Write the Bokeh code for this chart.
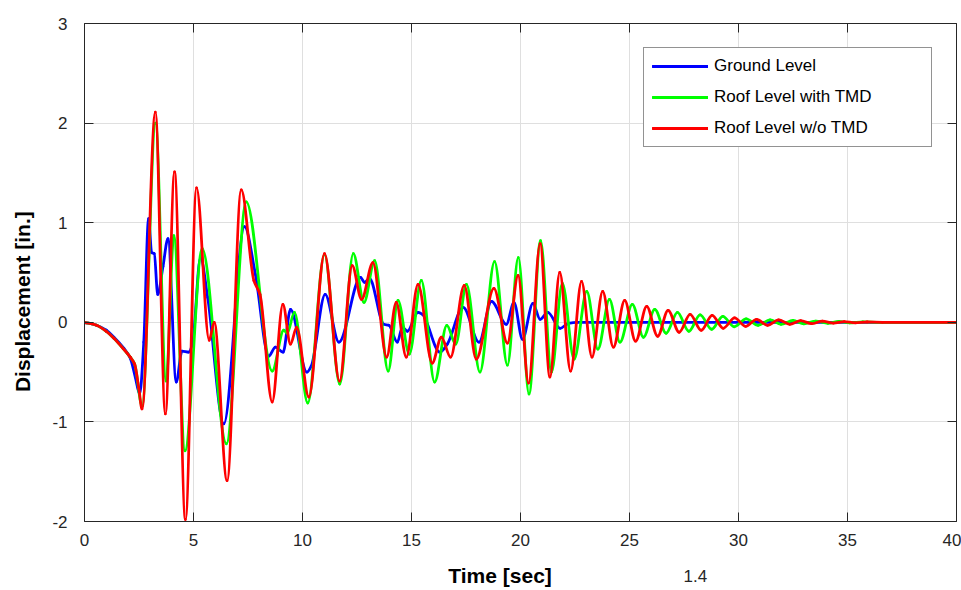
import numpy as np
from bokeh.plotting import figure
from bokeh.models import (LinearAxis, FixedTicker, Legend, LegendItem, Range1d,
                          ColumnDataSource, Title, CustomLabelingPolicy)
from bokeh.embed import file_html
from bokeh.resources import INLINE

# ---------------- data ----------------
x_ticks = [0, 5, 10, 15, 20, 25, 30, 35, 40]
y_ticks = [-2, -1, 0, 1, 2, 3]
y_tick_labels = {-2: "-2", -1: "-1", 0: "0", 1: "1", 2: "2", 3: "3"}

series_names = ["Ground Level", "Roof Level with TMD", "Roof Level w/o TMD"]
series_colors = ["#0000ff", "#00ff00", "#ff0000"]

ground_t = [0, 0.55, 1.0, 1.35, 1.8, 2.1, 2.33, 2.53, 2.72, 2.94, 3.08, 3.2, 3.36,
            3.6, 3.83, 4.21, 4.47, 4.78, 4.95, 5.32, 5.65, 6.39, 7.34, 7.84, 8.45,
            8.76, 9.11, 9.45, 10.2, 10.4, 11.04, 11.67, 12.66, 12.85, 13.07, 13.73,
            13.96, 14.35, 14.58, 14.81, 15.3, 15.5, 16.3, 16.64, 17.37, 18.1, 18.67,
            19.35, 19.7, 20.09, 20.57, 20.9, 21.25, 21.82, 22.2, 22.6, 40]
ground_v = [0, -0.03, -0.08, -0.15, -0.26, -0.36, -0.55, -0.72, -0.2, 1.04, 0.70, 0.69, 0.28,
            0.56, 0.84, -0.60, -0.29, -0.30, -0.22, 0.65, 0.25, -1.02, 0.96, 0.48, -0.34,
            -0.25, -0.30, 0.13, -0.50, -0.44, 0.28, -0.20, 0.45, 0.40, 0.44, -0.02,
            -0.03, -0.20, -0.05, -0.09, 0.10, 0.08, -0.30, -0.22, 0.15, -0.20, 0.21,
            -0.02, 0.20, -0.17, 0.19, 0.03, 0.10, -0.06, -0.01, 0.0, 0.0]

tmd_t = [0, 0.55, 1.0, 1.35, 1.8, 2.1, 2.3, 2.64, 3.26, 3.74, 4.10, 4.61, 5.40, 6.51,
         7.42, 8.61, 9.14, 9.3, 9.63, 10.24, 11.01, 11.71, 12.33, 12.82, 13.31, 13.93,
         14.38, 14.90, 15.45, 16.06, 16.62, 17.03, 17.52, 18.14, 18.81, 19.40, 19.90,
         20.39, 20.92, 21.42, 21.92, 22.46, 23.04, 23.55, 24.08, 24.56, 25.13, 25.64,
         26.16, 26.68, 27.20, 27.72, 28.24, 28.77, 29.28, 29.80, 30.35, 30.9, 31.45,
         31.95, 32.5, 33.0, 33.55, 34.1, 34.6, 35.1, 35.7, 36.5, 40]
tmd_v = [0, -0.03, -0.09, -0.16, -0.27, -0.35, -0.42, -0.84, 2.0, -0.59, 0.87, -1.29, 0.74, -1.22,
         1.21, -0.49, -0.08, -0.11, 0.10, -0.81, 0.68, -0.62, 0.69, 0.20, 0.62, -0.49,
         0.22, -0.32, 0.42, -0.60, -0.03, -0.22, 0.38, -0.50, 0.61, -0.43, 0.65,
         -0.72, 0.82, -0.50, 0.39, -0.37, 0.31, -0.27, 0.23, -0.20, 0.18, -0.15,
         0.13, -0.11, 0.10, -0.09, 0.075, -0.07, 0.06, -0.045, 0.035, -0.03, 0.025,
         -0.02, 0.018, -0.015, 0.012, -0.01, 0.008, -0.006, 0.004, 0.0, 0.0]

notmd_t = [0, 0.55, 1.0, 1.35, 1.8, 2.1, 2.3, 2.49, 2.64, 3.25, 3.71, 4.13, 4.63, 5.14,
           5.72, 5.95, 6.54, 7.19, 7.77, 8.05, 8.61, 9.10, 9.45, 9.73, 10.29, 11.01,
           11.70, 12.28, 12.71, 13.23, 13.86, 14.30, 14.76, 15.30, 15.95, 16.37, 16.79,
           17.42, 17.97, 18.78, 19.40, 19.89, 20.37, 20.90, 21.35, 21.80, 22.30, 22.80,
           23.28, 23.77, 24.26, 24.78, 25.28, 25.79, 26.29, 26.77, 27.28, 27.78, 28.29,
           28.79, 29.30, 29.82, 30.33, 30.83, 31.33, 31.84, 32.35, 32.85, 33.35, 33.85,
           34.35, 34.85, 35.35, 35.9, 36.6, 40]
notmd_v = [0, -0.03, -0.09, -0.16, -0.27, -0.35, -0.42, -0.66, -0.87, 2.11, -0.92, 1.51, -1.98, 1.35,
           -0.18, 0.0, -1.59, 1.33, 0.42, 0.28, -0.80, 0.18, -0.22, -0.05, -0.75, 0.69,
           -0.59, 0.57, 0.23, 0.60, -0.35, 0.20, -0.35, 0.38, -0.41, -0.15, -0.35,
           0.37, -0.37, 0.34, -0.21, 0.47, -0.61, 0.79, -0.55, 0.50, -0.49, 0.41,
           -0.35, 0.31, -0.25, 0.22, -0.19, 0.16, -0.14, 0.12, -0.10, 0.08, -0.08,
           0.07, -0.06, 0.045, -0.04, 0.03, -0.03, 0.025, -0.02, 0.017, -0.014, 0.011,
           -0.009, 0.007, -0.005, 0.003, 0.0, 0.0]

x_label = "Time [sec]"
y_label = "Displacement [in.]"
stray_label = "1.4"   # tick label of the neighbouring chart visible at the bottom


def smooth_segments(t, v):
    """Monotone (PCHIP-style) cubic Bezier segments through the read points."""
    x = np.asarray(t, float)
    y = np.asarray(v, float)
    h = np.diff(x)
    d = np.diff(y) / h
    n = len(x)
    m = np.zeros(n)
    m[0] = d[0]
    m[-1] = d[-1]
    for i in range(1, n - 1):
        if d[i - 1] * d[i] <= 0:
            m[i] = 0.0
        else:
            w1 = 2 * h[i] + h[i - 1]
            w2 = h[i] + 2 * h[i - 1]
            m[i] = (w1 + w2) / (w1 / d[i - 1] + w2 / d[i])
    return dict(x0=x[:-1], y0=y[:-1], x1=x[1:], y1=y[1:],
                cx0=x[:-1] + h / 3, cy0=y[:-1] + m[:-1] * h / 3,
                cx1=x[1:] - h / 3, cy1=y[1:] - m[1:] * h / 3)


FONT = "Liberation Sans"
AX = "#262626"
NBSP = "\u00a0"

p = figure(width=961, height=590, x_range=Range1d(0, 40), y_range=Range1d(-2, 3),
           output_backend="svg", toolbar_location=None,
           min_border_left=84, min_border_right=5, min_border_top=23, min_border_bottom=69)
p.background_fill_color = "white"
p.border_fill_color = "white"
p.outline_line_color = None

# grid
p.xgrid.ticker = FixedTicker(ticks=x_ticks)
p.ygrid.ticker = FixedTicker(ticks=y_ticks)
for g in (p.xgrid, p.ygrid):
    g.grid_line_color = "#dfdfdf"
    g.grid_line_width = 1


def style_axis(ax, size="17px"):
    ax.axis_line_color = AX
    ax.axis_line_width = 1
    ax.major_tick_line_color = AX
    ax.major_tick_in = 9
    ax.major_tick_out = 0
    ax.minor_tick_line_color = None
    ax.major_label_text_font = FONT
    ax.major_label_text_color = AX
    ax.major_label_text_font_size = size


xa = p.xaxis[0]
ya = p.yaxis[0]
xa.ticker = FixedTicker(ticks=x_ticks)
ya.ticker = FixedTicker(ticks=y_ticks)
ya.major_label_overrides = y_tick_labels
style_axis(xa)
style_axis(ya)
xa.major_label_standoff = 12
ya.major_label_standoff = 17
# trailing no-break spaces reproduce the off-centre placement of the labels
xa.axis_label = x_label + NBSP * 7
ya.axis_label = y_label + NBSP * 10
for ax in (xa, ya):
    ax.axis_label_text_font = FONT
    ax.axis_label_text_font_style = "bold"
    ax.axis_label_text_font_size = "21px"
    ax.axis_label_text_color = "black"
xa.axis_label_standoff = 15
ya.axis_label_standoff = 15

# top / right box edges with inward ticks and no labels
no_labels = CustomLabelingPolicy(code="return []")
top = LinearAxis(ticker=FixedTicker(ticks=x_ticks), major_label_policy=no_labels)
right = LinearAxis(ticker=FixedTicker(ticks=y_ticks), major_label_policy=no_labels)
style_axis(top, "0px")
style_axis(right, "0px")
top.major_label_standoff = 0
right.major_label_standoff = 0
p.add_layout(top, "above")
p.add_layout(right, "right")

# curves
renderers = []
for t, v, c in ((ground_t, ground_v, series_colors[0]),
                (tmd_t, tmd_v, series_colors[1]),
                (notmd_t, notmd_v, series_colors[2])):
    src = ColumnDataSource(smooth_segments(t, v))
    r = p.bezier(x0="x0", y0="y0", x1="x1", y1="y1", cx0="cx0", cy0="cy0",
                 cx1="cx1", cy1="cy1", source=src, line_color=c, line_width=2.8,
                 line_cap="round")
    renderers.append(r)

legend = Legend(items=[LegendItem(label=n, renderers=[r])
                       for n, r in zip(series_names, renderers)],
                location=(559, 374))
legend.border_line_color = AX
legend.border_line_width = 1
legend.background_fill_color = "white"
legend.background_fill_alpha = 1
legend.padding = 8
legend.spacing = 11
legend.margin = 0
legend.glyph_width = 56
legend.glyph_height = 20
legend.label_height = 20
legend.label_width = 209
legend.label_standoff = 6
legend.label_text_font = FONT
legend.label_text_font_size = "17px"
legend.label_text_color = "black"
p.add_layout(legend, "center")

# stray tick label of the neighbouring chart (sits on the x-label line)
stray = Title(text=stray_label, align="left", offset=599, vertical_align="top",
              standoff=-40, text_font=FONT, text_font_style="normal",
              text_font_size="17px", text_color=AX)
p.add_layout(stray, "below")

open("out.html", "w").write(file_html(p, INLINE))
